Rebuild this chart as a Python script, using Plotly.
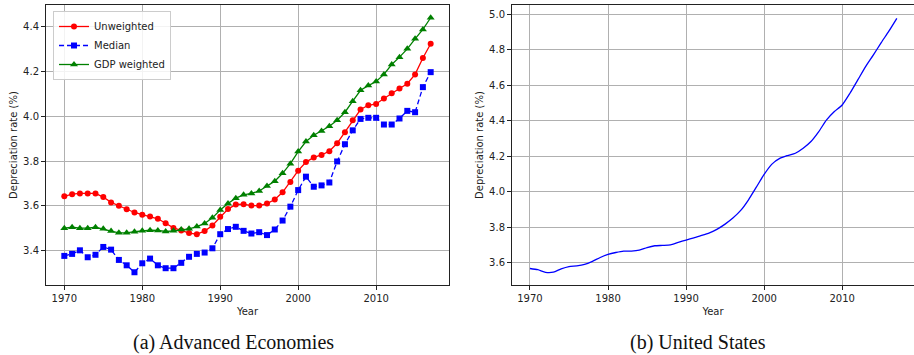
import plotly.graph_objects as go

years = list(range(1970, 2018))

unweighted = [3.642, 3.652, 3.655, 3.655, 3.655, 3.639, 3.615, 3.600, 3.584, 3.570,
              3.560, 3.552, 3.542, 3.522, 3.501, 3.490, 3.478, 3.473, 3.487, 3.512,
              3.551, 3.585, 3.606, 3.607, 3.601, 3.601, 3.610, 3.628, 3.660, 3.706,
              3.757, 3.795, 3.816, 3.827, 3.844, 3.879, 3.928, 3.982, 4.030, 4.049,
              4.055, 4.079, 4.103, 4.124, 4.145, 4.187, 4.260, 4.324]

median = [3.376, 3.385, 3.401, 3.370, 3.381, 3.416, 3.404, 3.358, 3.334, 3.303,
          3.343, 3.364, 3.334, 3.321, 3.321, 3.345, 3.372, 3.385, 3.391, 3.410,
          3.473, 3.496, 3.506, 3.488, 3.476, 3.482, 3.469, 3.494, 3.534, 3.596,
          3.670, 3.730, 3.685, 3.691, 3.704, 3.798, 3.875, 3.937, 3.988, 3.993,
          3.993, 3.963, 3.963, 3.990, 4.024, 4.018, 4.130, 4.197]

gdp_weighted = [3.500, 3.504, 3.500, 3.500, 3.504, 3.497, 3.487, 3.479, 3.479, 3.484,
                3.488, 3.491, 3.490, 3.485, 3.488, 3.494, 3.497, 3.507, 3.521, 3.546,
                3.581, 3.610, 3.634, 3.649, 3.655, 3.666, 3.688, 3.710, 3.745, 3.788,
                3.842, 3.887, 3.915, 3.934, 3.955, 3.982, 4.018, 4.067, 4.116, 4.137,
                4.155, 4.187, 4.231, 4.264, 4.301, 4.346, 4.388, 4.440]

us_rate = [3.568, 3.561, 3.546, 3.547, 3.566, 3.579, 3.583, 3.591, 3.608, 3.630,
           3.647, 3.658, 3.666, 3.666, 3.671, 3.686, 3.696, 3.698, 3.701, 3.715,
           3.728, 3.741, 3.754, 3.769, 3.790, 3.818, 3.852, 3.895, 3.955, 4.026,
           4.098, 4.156, 4.188, 4.204, 4.217, 4.245, 4.283, 4.339, 4.405, 4.452,
           4.489, 4.555, 4.630, 4.705, 4.771, 4.840, 4.906, 4.977]

x_ticks = [1970, 1980, 1990, 2000, 2010]
left_y_ticks = [3.4, 3.6, 3.8, 4.0, 4.2, 4.4]
right_y_ticks = [3.6, 3.8, 4.0, 4.2, 4.4, 4.6, 4.8, 5.0]

W, H = 914, 355
FONT = "DejaVu Sans"

# plot-area in pixels
L, R, T, B = 46, 914, 5, 285
PW, PH = R - L, B - T


def px(xp):
    return (xp - L) / PW


def py(yp):
    return (B - yp) / PH


fig = go.Figure()
fig.add_trace(go.Scatter(x=years, y=unweighted, name="Unweighted", mode="lines+markers",
                         line=dict(color="#ff0000", width=1.3),
                         marker=dict(symbol="circle", size=6, color="#ff0000"),
                         xaxis="x", yaxis="y"))
fig.add_trace(go.Scatter(x=years, y=median, name="Median", mode="lines+markers",
                         line=dict(color="#0000ff", width=1.3, dash="5px,3px"),
                         marker=dict(symbol="square", size=6, color="#0000ff"),
                         xaxis="x", yaxis="y"))
fig.add_trace(go.Scatter(x=years, y=gdp_weighted, name="GDP weighted", mode="lines+markers",
                         line=dict(color="#008000", width=1.3),
                         marker=dict(symbol="triangle-up", size=7, color="#008000"),
                         xaxis="x", yaxis="y"))
fig.add_trace(go.Scatter(x=years, y=us_rate, mode="lines", showlegend=False,
                         line=dict(color="#0000ff", width=1.3, shape="spline", smoothing=0.6),
                         xaxis="x2", yaxis="y2"))

axis_common = dict(showline=True, linecolor="#222222", linewidth=1, mirror=True,
                   ticks="outside", ticklen=4, tickcolor="#222222", automargin=False,
                   showgrid=True, gridcolor="#b0b0b0", gridwidth=0.8, zeroline=False,
                   tickfont=dict(family=FONT, size=10, color="#222222"))

fig.update_layout(
    width=W, height=H,
    margin=dict(l=L, r=W - R, t=T, b=H - B, pad=0, autoexpand=False),
    paper_bgcolor="white", plot_bgcolor="white",
    font=dict(family=FONT, size=10, color="#222222"),
    xaxis=dict(domain=[0, px(449)], range=[1967.65, 2019.35], tickvals=x_ticks,
               title=dict(text="Year", font=dict(size=10), standoff=4), anchor="y", **axis_common),
    yaxis=dict(domain=[0, 1], range=[3.246, 4.497], tickvals=left_y_ticks, tickformat=".1f",
               title=dict(text="Depreciation rate (%)", font=dict(size=10), standoff=3),
               anchor="x", **axis_common),
    xaxis2=dict(domain=[px(512), 1.0], range=[1967.7, 2019.2], tickvals=x_ticks,
                title=dict(text="Year", font=dict(size=10), standoff=4), anchor="y2", **axis_common),
    yaxis2=dict(domain=[0, 1], range=[3.475, 5.052], tickvals=right_y_ticks, tickformat=".1f",
                title=dict(text="Depreciation rate (%)", font=dict(size=10), standoff=3),
                anchor="x2", **axis_common),
    legend=dict(x=px(53), y=py(11), xanchor="left", yanchor="top",
                bgcolor="rgba(255,255,255,0.85)", bordercolor="#cccccc", borderwidth=1,
                font=dict(family=FONT, size=10, color="#222222"),
                tracegroupgap=0, itemwidth=30),
    annotations=[
        dict(text="(a) Advanced Economies", x=px(233), y=py(342), xref="paper", yref="paper",
             xanchor="center", yanchor="middle", showarrow=False,
             font=dict(family="Liberation Serif", size=20, color="#111111")),
        dict(text="(b) United States", x=px(698), y=py(342), xref="paper", yref="paper",
             xanchor="center", yanchor="middle", showarrow=False,
             font=dict(family="Liberation Serif", size=20, color="#111111")),
    ],
)

fig.write_html("out.html", config={"displayModeBar": False},
               post_script="document.body.style.margin='0px';document.body.style.overflow='hidden';")
